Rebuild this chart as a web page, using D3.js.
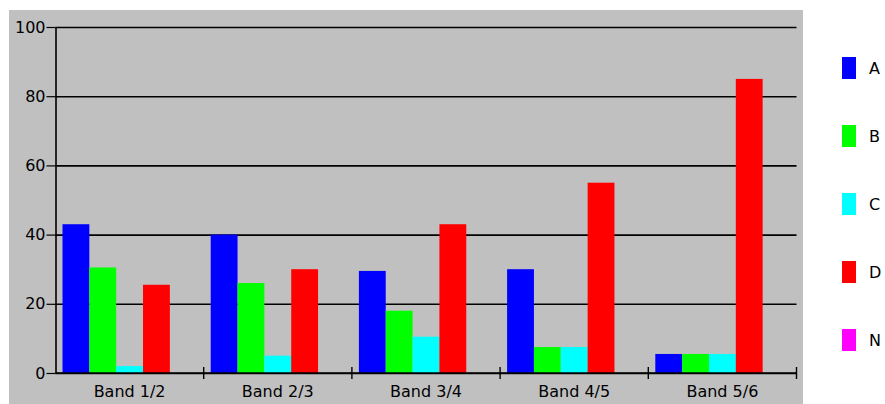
<!DOCTYPE html>
<html lang="en">
<head>
    <meta charset="utf-8">
    <title>Bands</title>
    <script src="https://d3js.org/d3.v7.min.js"></script>
    <style>
        body { margin: 0; background: #fff; }
        text { font-family: "DejaVu Sans", sans-serif; font-size: 16px; fill: #000; }
    </style>
</head>
<body>
    <script>
        const bands = ['Band 1/2', 'Band 2/3', 'Band 3/4', 'Band 4/5', 'Band 5/6']
        const series = ['A', 'B', 'C', 'D', 'N']
        const colors = ['#0000ff', '#00ff00', '#00ffff', '#ff0000', '#ff00ff']
        const valuesA = [43, 40, 29.5, 30, 5.5]
        const valuesB = [30.5, 26, 18, 7.5, 5.5]
        const valuesC = [2, 5, 10.5, 7.5, 5.5]
        const valuesD = [25.5, 30, 43, 55, 85]
        const valuesN = [0, 0, 0, 0, 0]
        const yTicks = [0, 20, 40, 60, 80, 100]

        const allValues = [valuesA, valuesB, valuesC, valuesD, valuesN]

        const m = { width: 885, height: 404 }

        const svg = d3.select('body').append('svg')
            .attr('width', m.width)
            .attr('height', m.height)

        // gray panel behind the plot
        svg.append('rect')
            .attr('x', 9).attr('y', 10)
            .attr('width', 794).attr('height', 394)
            .attr('fill', '#c0c0c0')

        const x = d3.scaleBand().domain(bands).range([55.5, 796.5]).padding(0)
        const xInner = d3.scaleBand().domain(series).range([7, x.bandwidth() - 7]).padding(0)
        const y = d3.scaleLinear().domain([0, 100]).range([373, 27])

        // gridlines
        svg.append('g')
            .attr('transform', 'translate(55.5,0)')
            .call(d3.axisLeft(y).tickValues(yTicks).tickSize(-(796.5 - 55.5)).tickFormat(''))
            .call(g => g.select('.domain').remove())
            .selectAll('line')
            .attr('stroke', '#000')
            .attr('stroke-width', 1.6)

        // bars
        const rows = []
        bands.forEach((b, i) => {
            series.forEach((s, j) => {
                rows.push({ band: b, key: s, value: allValues[j][i], color: colors[j] })
            })
        })

        svg.append('g').selectAll('rect')
            .data(rows)
            .enter()
            .append('rect')
            .attr('x', d => x(d.band) + xInner(d.key))
            .attr('width', xInner.bandwidth())
            .attr('y', d => y(d.value))
            .attr('height', d => y(0) - y(d.value))
            .attr('fill', d => d.color)

        // y axis with labels
        const yAxis = svg.append('g')
            .attr('transform', 'translate(55.5,0)')
            .call(d3.axisLeft(y).tickValues(yTicks).tickSize(9).tickSizeOuter(0).tickPadding(1))
        yAxis.select('.domain').attr('stroke', '#000').attr('stroke-width', 1.6)
        yAxis.selectAll('line').attr('stroke', '#000').attr('stroke-width', 1.2)
        yAxis.selectAll('text').attr('font-size', null).attr('font-family', null)

        // x axis line, boundary ticks, band labels
        const xAxis = svg.append('g')
        xAxis.append('line')
            .attr('x1', 55.5).attr('x2', 796.5)
            .attr('y1', y(0)).attr('y2', y(0))
            .attr('stroke', '#000').attr('stroke-width', 1.6)

        const bounds = bands.slice(1).map(b => x(b)).concat([x.range()[1]])
        xAxis.selectAll('.bt')
            .data(bounds)
            .enter()
            .append('line')
            .attr('x1', d => d).attr('x2', d => d)
            .attr('y1', y(0) - 6).attr('y2', y(0) + 6)
            .attr('stroke', '#000').attr('stroke-width', 1.4)

        xAxis.selectAll('.bl')
            .data(bands)
            .enter()
            .append('text')
            .attr('x', d => x(d) + x.bandwidth() / 2)
            .attr('y', 397)
            .attr('text-anchor', 'middle')
            .text(d => d)

        // legend
        const legend = svg.append('g')
            .selectAll('g')
            .data(series)
            .enter()
            .append('g')
            .attr('transform', (d, i) => `translate(842,${57 + i * 68})`)

        legend.append('rect')
            .attr('width', 14).attr('height', 22)
            .attr('fill', (d, i) => colors[i])

        legend.append('text')
            .attr('x', 27).attr('y', 12)
            .attr('dominant-baseline', 'middle')
            .text(d => d)
    </script>
</body>
</html>
